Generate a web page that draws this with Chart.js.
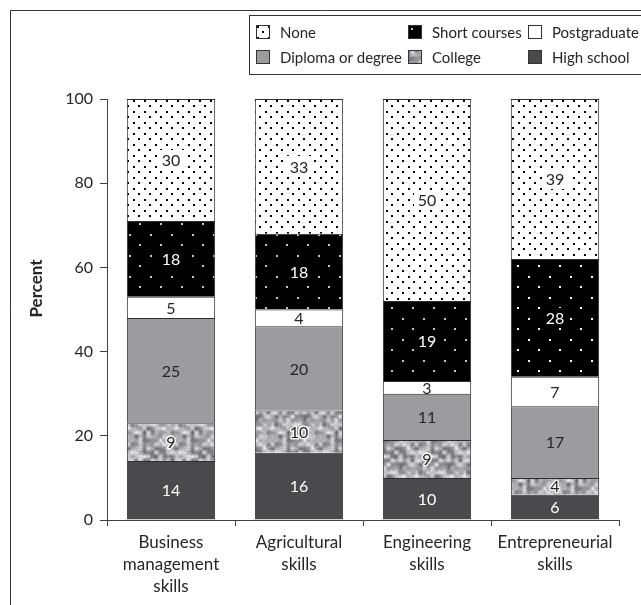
<!DOCTYPE html>
<html>
<head>
<meta charset="utf-8">
<script src="https://cdn.jsdelivr.net/npm/chart.js@4.4.0/dist/chart.umd.min.js"></script>
<style>
  html, body { margin: 0; padding: 0; background: #fff; }
  #c { display: block; }
</style>
</head>
<body>
<canvas id="c" width="641" height="605" style="width:641px;height:605px"></canvas>
<script>
// Categories (multi-line tick labels) and the stacked percentages per education level
const categories = [
  ['Business', 'management', 'skills'],
  ['Agricultural', 'skills'],
  ['Engineering', 'skills'],
  ['Entrepreneurial', 'skills']
];
const highSchool   = [14, 16, 10, 6];
const college      = [9, 10, 9, 4];
const diploma      = [25, 20, 11, 17];
const postgraduate = [5, 4, 3, 7];
const shortCourses = [18, 18, 19, 28];
const none         = [30, 33, 50, 39];
const yTicks       = [0, 20, 40, 60, 80, 100];

const FONT = 'Lato, "Open Sans", sans-serif';
const TEXT = '#262626';
const LINE = '#404040';

const canvas = document.getElementById('c');
const ctx = canvas.getContext('2d');

function makePattern(w, h, draw) {
  const t = document.createElement('canvas');
  t.width = w; t.height = h;
  draw(t.getContext('2d'), w, h);
  return ctx.createPattern(t, 'repeat');
}

// Fine black dots on white
const nonePattern = makePattern(11, 11, (g, w, h) => {
  g.fillStyle = '#ffffff'; g.fillRect(0, 0, w, h);
  g.fillStyle = '#000000';
  g.fillRect(1, 1, 2, 2);
  g.fillRect(6, 6, 2, 2);
});

// Sparse light dots on black
function shortPattern(dot) {
  return makePattern(21, 21, (g, w, h) => {
    g.fillStyle = '#000000'; g.fillRect(0, 0, w, h);
    g.fillStyle = dot;
    g.fillRect(3, 3, 2, 2);
    g.fillRect(13, 13, 2, 2);
  });
}
const shortGrey = shortPattern('#c4c4c4');
const shortWhite = shortPattern('#ffffff');

// Mottled grey texture (deterministic value noise)
function hash(x, y) {
  const s = Math.sin(x * 12.9898 + y * 78.233) * 43758.5453;
  return s - Math.floor(s);
}
const collegePattern = makePattern(48, 48, (g, w, h) => {
  const img = g.createImageData(w, h);
  const cell = 4, n = w / cell;
  const v = (i, j) => hash(((i % n) + n) % n, ((j % n) + n) % n);
  for (let y = 0; y < h; y++) {
    for (let x = 0; x < w; x++) {
      const gx = x / cell, gy = y / cell;
      const i = Math.floor(gx), j = Math.floor(gy);
      const fx = gx - i, fy = gy - j;
      const sx = fx * fx * (3 - 2 * fx), sy = fy * fy * (3 - 2 * fy);
      const a = v(i, j), b = v(i + 1, j), c = v(i, j + 1), d = v(i + 1, j + 1);
      const smooth = (a * (1 - sx) + b * sx) * (1 - sy) + (c * (1 - sx) + d * sx) * sy;
      const fine = hash(x + 101, y + 37);
      const val = Math.round(110 + smooth * 120 + (fine - 0.5) * 30);
      const k = (y * w + x) * 4;
      img.data[k] = val; img.data[k + 1] = val; img.data[k + 2] = Math.min(255, val + 4); img.data[k + 3] = 255;
    }
  }
  g.putImageData(img, 0, 0);
});

const datasets = [
  { label: 'High school', data: highSchool, backgroundColor: '#4a4a4c', labelColor: '#ffffff' },
  { label: 'College', data: college, backgroundColor: collegePattern, labelColor: TEXT, halo: true },
  { label: 'Diploma or degree', data: diploma, backgroundColor: '#9c9c9f', labelColor: TEXT },
  { label: 'Postgraduate', data: postgraduate, backgroundColor: '#ffffff', labelColor: TEXT },
  { label: 'Short courses', data: shortCourses, backgroundColor: [shortGrey, shortGrey, shortGrey, shortWhite], labelColor: '#ffffff', labelBg: '#000000', swatch: shortGrey },
  { label: 'None', data: none, backgroundColor: nonePattern, labelColor: TEXT, labelBg: '#ffffff' }
].map(d => Object.assign({
  borderColor: '#2e2e2e',
  borderWidth: 1,
  barPercentage: 0.69,
  categoryPercentage: 1.0,
  clip: 0
}, d));

// Legend arrangement: three columns, two rows
const legendOrder = [
  ['None', 'Short courses', 'Postgraduate'],
  ['Diploma or degree', 'College', 'High school']
];

const decorations = {
  id: 'decorations',
  afterDatasetsDraw(chart) {
    const c = chart.ctx;
    const area = chart.chartArea;
    // value labels centred in each visible segment
    c.save();
    c.font = '16px ' + FONT;
    c.textAlign = 'center';
    c.textBaseline = 'middle';
    chart.data.datasets.forEach((ds, i) => {
      const meta = chart.getDatasetMeta(i);
      meta.data.forEach((bar, j) => {
        const top = Math.max(bar.y, area.top);
        const cy = (top + bar.base) / 2;
        const txt = String(ds.data[j]);
        if (ds.labelBg) {
          const w = c.measureText(txt).width + 8;
          c.fillStyle = ds.labelBg;
          c.fillRect(Math.round(bar.x - w / 2), Math.round(cy - 10), Math.round(w), 20);
        }
        if (ds.halo) {
          c.lineWidth = 3;
          c.strokeStyle = 'rgba(255,255,255,0.9)';
          c.lineJoin = 'round';
          c.strokeText(txt, bar.x, cy + 1);
        }
        c.fillStyle = ds.labelColor;
        c.fillText(txt, bar.x, cy + 1);
      });
    });
    // closing edge at the top of each stack
    const lastMeta = chart.getDatasetMeta(chart.data.datasets.length - 1);
    c.strokeStyle = '#2e2e2e';
    c.lineWidth = 1;
    lastMeta.data.forEach(bar => {
      c.beginPath();
      c.moveTo(bar.x - bar.width / 2, area.top + 0.5);
      c.lineTo(bar.x + bar.width / 2, area.top + 0.5);
      c.stroke();
    });
    c.restore();
  },
  afterDraw(chart) {
    const c = chart.ctx;
    const area = chart.chartArea;
    c.save();
    // outer frame
    c.strokeStyle = '#333';
    c.lineWidth = 1;
    c.beginPath();
    c.moveTo(10.5, chart.height);
    c.lineTo(10.5, 10.5);
    c.lineTo(chart.width, 10.5);
    c.stroke();

    // y-axis title
    c.save();
    c.translate(37, area.top + area.height * 0.45);
    c.rotate(-Math.PI / 2);
    c.font = 'bold 17px ' + FONT;
    c.fillStyle = TEXT;
    c.textAlign = 'center';
    c.textBaseline = 'middle';
    c.fillText('Percent', 0, 0);
    c.restore();

    // legend box
    c.fillStyle = '#fff';
    c.fillRect(249, 15, 400, 59);
    c.strokeStyle = '#333';
    c.strokeRect(249.5, 15.5, 400, 59);
    const cols = [256, 408, 528];
    const rows = [32, 57];
    c.font = '15px ' + FONT;
    c.textBaseline = 'middle';
    c.textAlign = 'left';
    legendOrder.forEach((row, r) => {
      row.forEach((name, k) => {
        const ds = chart.data.datasets.find(d => d.label === name);
        const x = cols[k], y = rows[r];
        c.save();
        c.translate(x, y - 7);
        c.fillStyle = ds.swatch || ds.backgroundColor;
        c.fillRect(0, 0, 14, 14);
        c.restore();
        c.strokeStyle = '#333';
        c.strokeRect(x + 0.5, y - 6.5, 13, 13);
        c.fillStyle = TEXT;
        c.fillText(name, x + 24, y + 1);
      });
    });
    c.restore();
  }
};

new Chart(ctx, {
  type: 'bar',
  data: { labels: categories, datasets },
  options: {
    responsive: false,
    animation: false,
    devicePixelRatio: 1,
    layout: { padding: { top: 99, right: 22, bottom: 0, left: 0 } },
    plugins: {
      legend: { display: false },
      tooltip: { enabled: false },
      title: { display: false }
    },
    scales: {
      x: {
        stacked: true,
        offset: true,
        afterFit(scale) { scale.height = 85; },
        grid: {
          offset: true,
          drawOnChartArea: false,
          drawTicks: true,
          tickLength: 6,
          color: LINE
        },
        border: { display: true, color: LINE, width: 1 },
        ticks: {
          color: TEXT,
          padding: 5,
          maxRotation: 0,
          font: { family: FONT, size: 17, lineHeight: 1.3 }
        }
      },
      y: {
        stacked: true,
        min: 0,
        max: 100,
        afterFit(scale) { scale.width = 107; },
        afterBuildTicks(scale) { scale.ticks = yTicks.map(v => ({ value: v })); },
        grid: {
          drawOnChartArea: false,
          drawTicks: true,
          tickLength: 7,
          color: LINE
        },
        border: { display: true, color: LINE, width: 1 },
        ticks: {
          color: TEXT,
          padding: 7,
          font: { family: FONT, size: 16 }
        }
      }
    }
  },
  plugins: [decorations]
});
</script>
</body>
</html>
